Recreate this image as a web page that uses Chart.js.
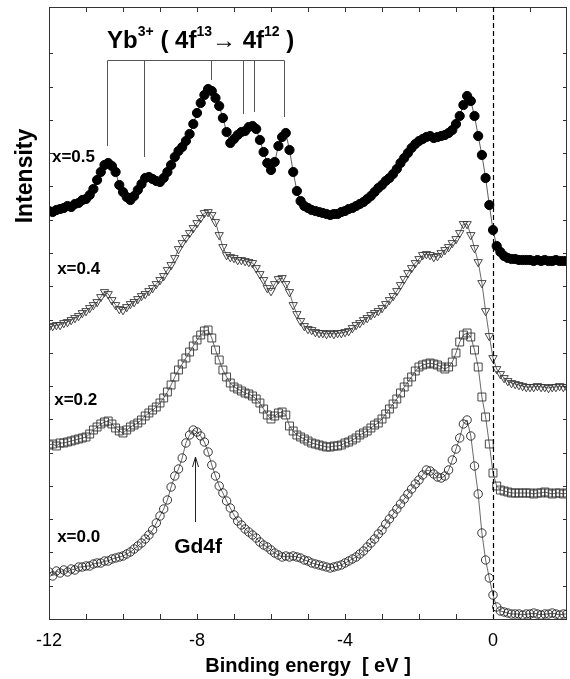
<!DOCTYPE html>
<html>
<head>
<meta charset="utf-8">
<script src="https://cdn.jsdelivr.net/npm/chart.js@4.4.1/dist/chart.umd.min.js"></script>
<style>
html,body{margin:0;padding:0;background:#fff;}
canvas{display:block;}
</style>
</head>
<body>
<canvas id="c" width="570" height="679"></canvas>
<script>
// Binding energy grid (eV)
const energies = [
-12.0,-11.9,-11.8,-11.7,-11.6,-11.5,-11.4,-11.3,-11.2,-11.1,
-11.0,-10.9,-10.8,-10.7,-10.6,-10.5,-10.4,-10.3,-10.2,-10.1,
-10.0,-9.9,-9.8,-9.7,-9.6,-9.5,-9.4,-9.3,-9.2,-9.1,
-9.0,-8.9,-8.8,-8.7,-8.6,-8.5,-8.4,-8.3,-8.2,-8.1,
-8.0,-7.9,-7.8,-7.7,-7.6,-7.5,-7.4,-7.3,-7.2,-7.1,
-7.0,-6.9,-6.8,-6.7,-6.6,-6.5,-6.4,-6.3,-6.2,-6.1,
-6.0,-5.9,-5.8,-5.7,-5.6,-5.5,-5.4,-5.3,-5.2,-5.1,
-5.0,-4.9,-4.8,-4.7,-4.6,-4.5,-4.4,-4.3,-4.2,-4.1,
-4.0,-3.9,-3.8,-3.7,-3.6,-3.5,-3.4,-3.3,-3.2,-3.1,
-3.0,-2.9,-2.8,-2.7,-2.6,-2.5,-2.4,-2.3,-2.2,-2.1,
-2.0,-1.9,-1.8,-1.7,-1.6,-1.5,-1.4,-1.3,-1.2,-1.1,
-1.0,-0.9,-0.8,-0.7,-0.6,-0.5,-0.4,-0.3,-0.2,-0.1,
0.0,0.1,0.2,0.3,0.4,0.5,0.6,0.7,0.8,0.9,
1.0,1.1,1.2,1.3,1.4,1.5,1.6,1.7,1.8,1.9,2.0
];

// Intensity (arb. units, curves offset vertically)
const intensityX05 = [
408,407,409,410,411,413,412,415,416,419,
420,424,430,439,447,454,456,453,447,434,
427,422,419,423,429,435,441,442,440,438,
437,441,447,454,462,468,472,478,485,495,
506,516,524,530,528,521,513,501,487,476,
480,484,487,488,492,493,490,479,467,456,
449,457,473,482,486,469,447,428,418,413,
411,409,408,407,406,405,404,405,405,407,
408,410,411,413,415,417,420,423,427,431,
434,438,441,445,450,456,461,466,471,475,
478,480,482,483,481,482,483,484,486,489,
495,503,514,523,518,503,483,464,441,414,
389,373,367,363,361,360,360,359,359,359,
359,358,359,358,359,358,358,359,358,358,358
];
const intensityX04 = [
292,293,294,294,296,297,299,301,303,306,
308,311,314,317,322,327,325,319,314,310,
309,312,315,317,320,323,325,328,331,335,
339,343,349,354,361,370,376,381,386,391,
396,401,406,407,404,397,384,372,364,362,
361,359,359,358,357,356,351,345,339,331,
328,335,340,341,335,327,314,305,298,293,
290,289,287,286,286,285,286,285,286,286,
287,288,291,294,296,299,301,304,306,308,
311,315,319,323,328,334,340,346,351,356,
360,364,365,364,362,363,366,369,372,376,
380,386,395,395,384,371,357,336,308,283,
261,250,245,241,238,236,235,234,233,232,
232,232,233,232,232,231,232,232,233,232,232
];
const intensityX02 = [
174,175,173,176,176,177,178,179,180,181,
182,185,189,192,195,197,198,195,191,188,
186,189,192,194,196,199,203,206,209,212,
216,221,227,234,242,249,255,261,267,273,
279,284,288,289,281,269,259,249,242,236,
232,230,228,226,225,223,220,216,210,204,
200,203,206,207,204,193,188,184,182,180,
178,176,175,174,173,172,172,173,173,174,
176,177,179,181,184,186,188,191,194,196,
200,205,210,215,220,226,232,237,242,248,
252,254,255,256,255,254,252,250,252,257,
266,277,284,286,282,269,252,222,202,175,
146,133,129,128,127,126,126,126,126,126,
126,125,126,126,127,126,125,126,126,125,126
];
const intensityX00 = [
47,43,48,46,49,47,50,49,52,52,
53,53,55,56,56,58,58,60,61,62,
63,65,67,70,73,76,80,84,89,96,
103,110,119,132,143,150,161,176,184,189,
187,183,177,167,154,143,133,126,118,111,
104,98,94,90,87,84,81,77,74,72,
69,66,64,62,63,62,63,62,61,59,
58,56,55,54,53,52,51,52,53,54,
56,58,60,62,65,68,72,76,80,85,
89,95,100,105,110,115,120,125,130,135,
139,144,149,148,145,142,141,143,149,159,
170,181,195,199,183,153,125,86,59,41,
24,12,8,7,6,5,5,5,4,5,
5,6,5,4,5,5,6,5,4,5,5
];

const seriesLabels = ["x=0.5", "x=0.4", "x=0.2", "x=0.0"];
const xTickLabels = ["-12", "-8", "-4", "0"];

// Yb3+ final-state multiplet markers (energy, lower end of marker line)
const ybEnergies = [-10.43, -9.43, -7.62, -6.76, -6.46, -5.65];
const ybLineEnds = [473, 462, 539, 505, 507, 502];
const ybBarLevel = 559;
const gdPeakEnergy = -8.05;

const FONT = "'Liberation Sans', Arial, Helvetica, sans-serif";

function pts(arr){ return energies.map((e,i)=>({x:e, y:arr[i]})); }

const annot = {
  id: 'annot',
  afterDraw(chart){
    const ctx = chart.ctx, a = chart.chartArea;
    const xs = chart.scales.x, ys = chart.scales.y;
    const X = v => xs.getPixelForValue(v), Y = v => ys.getPixelForValue(v);
    ctx.save();
    // frame
    ctx.strokeStyle = '#333'; ctx.lineWidth = 1;
    ctx.strokeRect(Math.round(a.left)+0.5, Math.round(a.top)+0.5, Math.round(a.right-a.left)-1, Math.round(a.bottom-a.top));
    // inward ticks
    ctx.beginPath();
    xs.ticks.forEach(t => {
      const px = Math.round(X(t.value))+0.5;
      if (px <= a.left+1 || px >= a.right-1) return;
      ctx.moveTo(px, a.bottom); ctx.lineTo(px, a.bottom-5);
      ctx.moveTo(px, a.top); ctx.lineTo(px, a.top+5);
    });
    ys.ticks.forEach(t => {
      if (t.value <= 0 || t.value >= ys.max) return;
      const py = Math.round(Y(t.value))+0.5;
      ctx.moveTo(a.left, py); ctx.lineTo(a.left+4, py);
      ctx.moveTo(a.right, py); ctx.lineTo(a.right-4, py);
    });
    ctx.stroke();
    // Fermi level dashed line
    ctx.beginPath();
    ctx.setLineDash([5,3]);
    ctx.lineWidth = 1.2; ctx.strokeStyle = '#000';
    const x0 = Math.round(X(0))+0.5;
    ctx.moveTo(x0, a.top); ctx.lineTo(x0, a.bottom);
    ctx.stroke();
    ctx.setLineDash([]);
    // Yb multiplet bar
    ctx.strokeStyle = '#555'; ctx.lineWidth = 1;
    ctx.beginPath();
    const yb = Math.round(Y(ybBarLevel))+0.5;
    ctx.moveTo(Math.round(X(ybEnergies[0]))+0.5, yb);
    ctx.lineTo(Math.round(X(ybEnergies[ybEnergies.length-1]))+0.5, yb);
    ybEnergies.forEach((e,i)=>{
      const px = Math.round(X(e))+0.5;
      ctx.moveTo(px, yb); ctx.lineTo(px, Y(ybLineEnds[i]));
    });
    ctx.stroke();
    // Gd4f arrow
    ctx.strokeStyle = '#222'; ctx.lineWidth = 1;
    const gx = Math.round(X(gdPeakEnergy))+0.5;
    const gTip = Y(162), gTail = Y(97);
    ctx.beginPath();
    ctx.moveTo(gx, gTail); ctx.lineTo(gx, gTip);
    ctx.moveTo(gx-3, gTip+10); ctx.lineTo(gx, gTip); ctx.lineTo(gx+3, gTip+10);
    ctx.stroke();
    // texts
    ctx.fillStyle = '#000';
    ctx.textBaseline = 'alphabetic';
    ctx.textAlign = 'center';
    ctx.font = "bold 21px " + FONT;
    ctx.fillText("Gd4f", X(-7.97), Y(66));
    // series labels
    ctx.textAlign = 'left';
    ctx.font = "bold 17px " + FONT;
    const labPos = [[-11.92,457],[-11.78,345],[-11.86,214],[-11.78,77]];
    seriesLabels.forEach((s,i)=> ctx.fillText(s, X(labPos[i][0]), Y(labPos[i][1])));
    // Yb3+ (4f13 -> 4f12)
    const parts = [["Yb",0],["3+",1],[" ( 4f",0],["13",1],["\u2192 4f",0],["12",1],[" )",0]];
    let cx = X(ybEnergies[0]);
    const by = Y(571);
    parts.forEach(p=>{
      ctx.font = p[1] ? "bold 14px " + FONT : "bold 24px " + FONT;
      ctx.fillText(p[0], cx, p[1] ? by-12 : by);
      cx += ctx.measureText(p[0]).width;
    });
    // axis titles
    ctx.textAlign = 'center';
    ctx.font = "bold 20px " + FONT;
    ctx.fillText("Binding energy  [ eV ]", (a.left+a.right)/2, 672);
    ctx.save();
    ctx.translate(32, 176);
    ctx.rotate(-Math.PI/2);
    ctx.font = "bold 23px " + FONT;
    ctx.fillText("Intensity", 0, 0);
    ctx.restore();
    ctx.restore();
  }
};

new Chart(document.getElementById('c'), {
  type: 'line',
  data: {
    datasets: [
      { label: seriesLabels[0], data: pts(intensityX05), borderColor:'#333', borderWidth:0.8,
        pointStyle:'circle', pointRadius:4.6, pointBackgroundColor:'#000', pointBorderColor:'#000', pointBorderWidth:1 },
      { label: seriesLabels[1], data: pts(intensityX04), borderColor:'#444', borderWidth:0.8,
        pointStyle:'triangle', pointRotation:180, pointRadius:4.8, pointBackgroundColor:'rgba(0,0,0,0)', pointBorderColor:'#333', pointBorderWidth:0.9 },
      { label: seriesLabels[2], data: pts(intensityX02), borderColor:'#444', borderWidth:0.8,
        pointStyle:'rect', pointRadius:5.6, pointBackgroundColor:'rgba(0,0,0,0)', pointBorderColor:'#333', pointBorderWidth:0.9 },
      { label: seriesLabels[3], data: pts(intensityX00), borderColor:'#444', borderWidth:0.8,
        pointStyle:'circle', pointRadius:4.2, pointBackgroundColor:'rgba(0,0,0,0)', pointBorderColor:'#222', pointBorderWidth:0.9 }
    ]
  },
  options: {
    responsive: false,
    animation: false,
    devicePixelRatio: 1,
    layout: { autoPadding: false, padding: { left: 0, right: 3, top: 7, bottom: 0 } },
    plugins: { legend: { display: false }, tooltip: { enabled: false } },
    scales: {
      x: {
        type: 'linear', min: -12, max: 2,
        grid: { display: false, drawTicks: false },
        border: { display: false },
        ticks: {
          stepSize: 1, autoSkip: false, maxRotation: 0, padding: 11,
          color: '#000', font: { family: FONT, size: 18 },
          callback: v => { const s = String(v); return xTickLabels.includes(s) ? s : ''; }
        },
        afterFit: s => { s.height = 60; s.paddingLeft = 0; s.paddingRight = 0; }
      },
      y: {
        type: 'linear', min: 0, max: 612,
        grid: { display: false, drawTicks: false },
        border: { display: false },
        ticks: { display: false, stepSize: 33.27 },
        afterFit: s => { s.width = 49; s.paddingTop = 0; s.paddingBottom = 0; }
      }
    }
  },
  plugins: [annot]
});
</script>
</body>
</html>
